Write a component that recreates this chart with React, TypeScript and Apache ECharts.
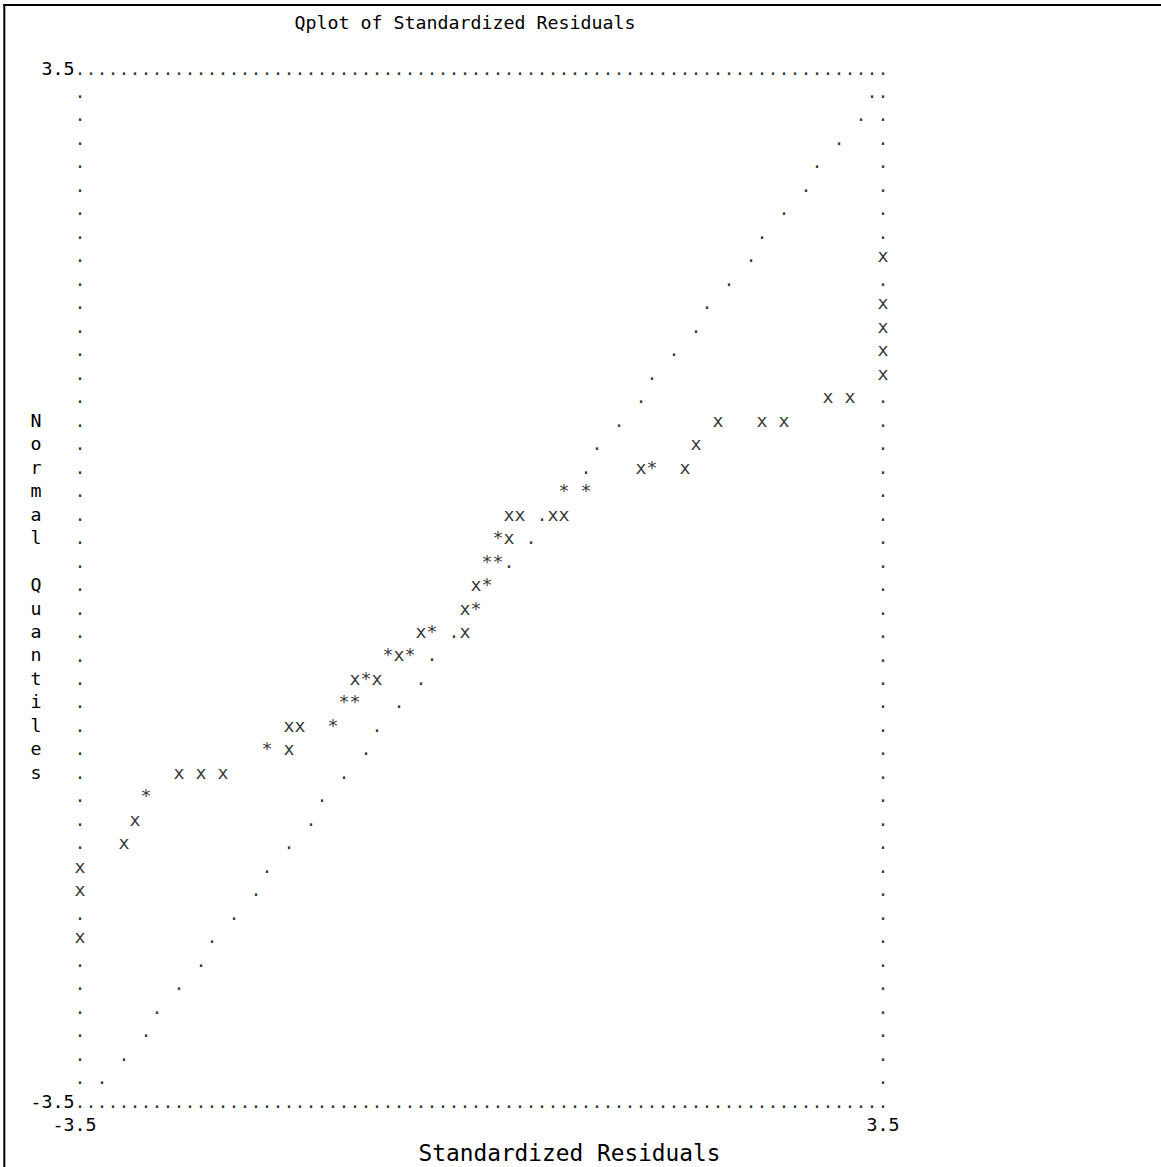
import React, { useEffect, useRef } from "react";
import * as echarts from "echarts";

// ---------- texts ----------
const chartTitle = "Qplot of Standardized Residuals";
const xAxisName = "Standardized Residuals";
const yAxisName = "Normal Quantiles";

// ---------- axis ----------
const axisMin = -3.5;
const axisMax = 3.5;
const tickStep = 3.5;
const tickLabels = ["-3.5", "3.5"];

// ---------- data: [standardized residual, normal quantile] ----------
// plotted with "x"
const obsPoints: [number, number][] = [
  [3.5, 2.227], [3.5, 1.909], [3.5, 1.75], [3.5, 1.591], [3.5, 1.432],
  [3.021, 1.273], [3.212, 1.273],
  [2.062, 1.114], [2.445, 1.114], [2.637, 1.114],
  [1.87, 0.955],
  [1.39, 0.795], [1.774, 0.795],
  [0.24, 0.477], [0.336, 0.477], [0.623, 0.477], [0.719, 0.477],
  [0.24, 0.318],
  [-0.048, 0],
  [-0.144, -0.159],
  [-0.527, -0.318], [-0.144, -0.318],
  [-0.719, -0.477],
  [-1.103, -0.636], [-0.911, -0.636],
  [-1.678, -0.955], [-1.582, -0.955],
  [-1.678, -1.114],
  [-2.637, -1.273], [-2.445, -1.273], [-2.253, -1.273],
  [-3.021, -1.591],
  [-3.116, -1.75],
  [-3.5, -1.909], [-3.5, -2.068], [-3.5, -2.386],
];

// plotted with "*" (several observations / overlap)
const starPoints: [number, number][] = [
  [1.486, 0.795],
  [0.719, 0.636], [0.911, 0.636],
  [0.144, 0.318],
  [0.048, 0.159], [0.144, 0.159],
  [0.048, 0],
  [-0.048, -0.159],
  [-0.432, -0.318],
  [-0.815, -0.477], [-0.623, -0.477],
  [-1.007, -0.636],
  [-1.199, -0.795], [-1.103, -0.795],
  [-1.295, -0.955],
  [-1.87, -1.114],
  [-2.925, -1.432],
];

// reference line plotted with "."
const refPoints: [number, number][] = [
  [3.404, 3.341], [3.308, 3.182], [3.116, 3.023], [2.925, 2.864], [2.829, 2.705],
  [2.637, 2.545], [2.445, 2.386], [2.349, 2.227], [2.158, 2.068], [1.966, 1.909],
  [1.87, 1.75], [1.678, 1.591], [1.486, 1.432], [1.39, 1.273], [1.199, 1.114],
  [1.007, 0.955], [0.911, 0.795], [0.527, 0.477], [0.432, 0.318], [0.24, 0.159],
  [-0.24, -0.318], [-0.432, -0.477], [-0.527, -0.636], [-0.719, -0.795],
  [-0.911, -0.955], [-1.007, -1.114], [-1.199, -1.273], [-1.39, -1.432],
  [-1.486, -1.591], [-1.678, -1.75], [-1.87, -1.909], [-1.966, -2.068],
  [-2.158, -2.227], [-2.349, -2.386], [-2.445, -2.545], [-2.637, -2.705],
  [-2.829, -2.864], [-2.925, -3.023], [-3.116, -3.182], [-3.308, -3.341],
];

// ---------- layout (character grid of the line-printer plot) ----------
const MONO = '"DejaVu Sans Mono", "Liberation Mono", monospace';
const FS = 18.27;
const FS_BIG = 22.8;
const CHAR_W = 11;
const ROW_H = 23.48;
const GRID_COLS = 73;
const GRID_ROWS = 44;
const GRID_LEFT = 80;
const GRID_TOP = 68;
const W = 1161;
const H = 1167;

function buildFrame(): [number, number][] {
  const all = [...obsPoints, ...starPoints, ...refPoints];
  const occupied = (x: number, y: number) =>
    all.some((p) => Math.abs(p[0] - x) < 0.02 && Math.abs(p[1] - y) < 0.02);
  const out: [number, number][] = [];
  const span = axisMax - axisMin;
  for (let c = 0; c <= GRID_COLS; c++) {
    const x = axisMin + (c * span) / GRID_COLS;
    out.push([x, axisMax]);
    out.push([x, axisMin]);
  }
  for (let r = 1; r < GRID_ROWS; r++) {
    const y = axisMax - (r * span) / GRID_ROWS;
    if (!occupied(axisMin, y)) out.push([axisMin, y]);
    if (!occupied(axisMax, y)) out.push([axisMax, y]);
  }
  return out;
}

const textSeries = (name: string, data: [number, number][], ch: string) => ({
  type: "scatter",
  name,
  data,
  symbol: "circle",
  symbolSize: 1,
  silent: true,
  clip: false,
  itemStyle: { color: "rgba(0,0,0,0)" },
  label: {
    show: true,
    position: "inside",
    formatter: ch,
    fontFamily: MONO,
    fontSize: FS,
    color: "#000",
    align: "center",
    verticalAlign: "middle",
  },
  emphasis: { disabled: true },
});

const tickFormatter = (v: number) =>
  Math.abs(v - axisMin) < 1e-9 ? tickLabels[0] : Math.abs(v - axisMax) < 1e-9 ? tickLabels[1] : "";

export default function App() {
  const ref = useRef<HTMLDivElement>(null);

  useEffect(() => {
    if (!ref.current) return;
    const chart = echarts.init(ref.current, null, { renderer: "svg" });
    const gridW = GRID_COLS * CHAR_W;
    const gridH = GRID_ROWS * ROW_H;
    const option: any = {
      animation: false,
      backgroundColor: "#fff",
      title: {
        text: chartTitle,
        left: GRID_LEFT + 20 * CHAR_W - CHAR_W / 2,
        top: 13,
        padding: 0,
        textStyle: {
          fontFamily: MONO,
          fontSize: FS,
          fontWeight: "normal",
          color: "#000",
          lineHeight: 18,
        },
      },
      grid: {
        left: GRID_LEFT,
        top: GRID_TOP,
        width: gridW,
        height: gridH,
        containLabel: false,
        outerBoundsMode: "none",
      },
      xAxis: {
        type: "value",
        min: axisMin,
        max: axisMax,
        interval: tickStep,
        axisLine: { show: false },
        axisTick: { show: false },
        splitLine: { show: false },
        axisLabel: {
          margin: ROW_H,
          verticalAlign: "middle",
          fontFamily: MONO,
          fontSize: FS,
          color: "#000",
          formatter: (v: number) => {
            const t = tickFormatter(v);
            if (!t) return "";
            return Math.abs(v - axisMin) < 1e-9 ? "{l|" + t + "}" : "{r|" + t + "}";
          },
          rich: {
            l: { fontFamily: MONO, fontSize: FS, color: "#000", padding: [0, CHAR_W, 0, 0] },
            r: { fontFamily: MONO, fontSize: FS, color: "#000" },
          },
        },
        name: xAxisName,
        nameLocation: "middle",
        nameGap: 51.4,
        nameMoveOverlap: false,
        nameTextStyle: {
          fontFamily: MONO,
          fontSize: FS_BIG,
          color: "#000",
          verticalAlign: "middle",
          padding: [0, 0, 0, 176],
        },
      },
      yAxis: {
        type: "value",
        min: axisMin,
        max: axisMax,
        interval: tickStep,
        axisLine: { show: false },
        axisTick: { show: false },
        splitLine: { show: false },
        axisLabel: {
          margin: CHAR_W / 2,
          fontFamily: MONO,
          fontSize: FS,
          color: "#000",
          formatter: tickFormatter,
        },
        name: "\n" + yAxisName.split("").join("\n"),
        nameLocation: "middle",
        nameRotate: 0,
        nameGap: 4 * CHAR_W,
        nameMoveOverlap: false,
        nameTextStyle: {
          fontFamily: MONO,
          fontSize: FS,
          color: "#000",
          align: "center",
          verticalAlign: "middle",
          lineHeight: ROW_H,
          padding: [ROW_H, 0, 0, 0],
        },
      },
      graphic: [
        { type: "line", shape: { x1: 3.3, y1: 5, x2: W, y2: 5 }, style: { stroke: "#000", lineWidth: 2 }, silent: true },
        { type: "line", shape: { x1: 4.3, y1: 4, x2: 4.3, y2: H }, style: { stroke: "#000", lineWidth: 2 }, silent: true },
      ],
      series: [
        textSeries("frame", buildFrame(), "."),
        textSeries("reference", refPoints, "."),
        textSeries("multiple", starPoints, "*"),
        textSeries("observed", obsPoints, "x"),
      ],
    };
    chart.setOption(option);
    return () => chart.dispose();
  }, []);

  return (
    <div
      ref={ref}
      style={{ position: "fixed", left: 0, top: 0, width: W, height: H, background: "#fff" }}
    />
  );
}
